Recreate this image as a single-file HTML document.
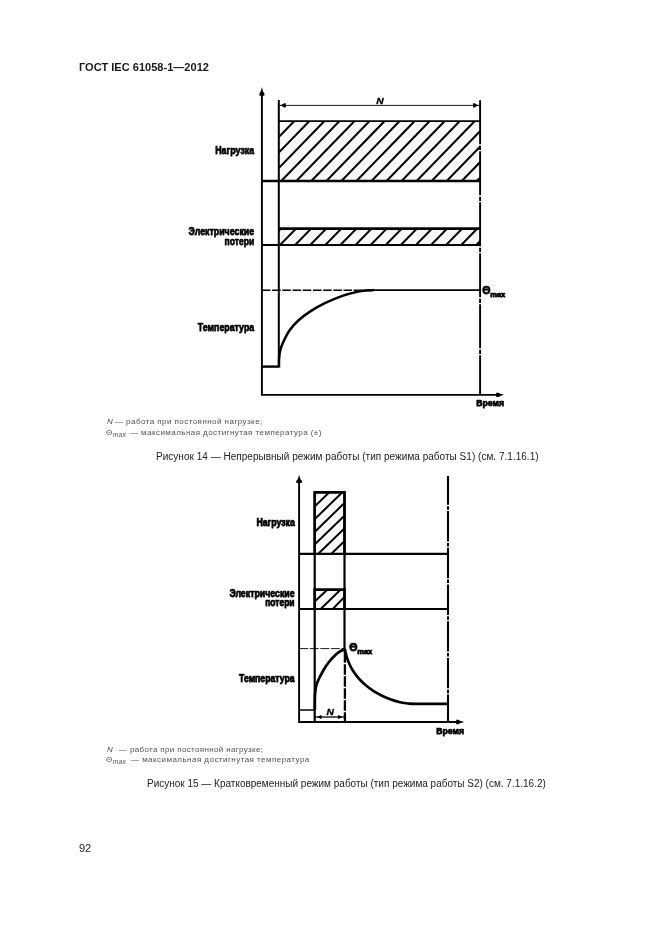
<!DOCTYPE html>
<html lang="ru">
<head>
<meta charset="utf-8">
<title>ГОСТ IEC 61058-1—2012</title>
<style>
html,body{margin:0;padding:0;background:#fff;}
body{width:661px;height:935px;position:relative;overflow:hidden;font-family:"Liberation Sans",sans-serif;color:#1a1a1a;}
.t{position:absolute;white-space:nowrap;line-height:1;will-change:transform;}
.hdr{left:78.5px;top:61.5px;font-size:11px;font-weight:bold;letter-spacing:0.03px;color:#1a1a1a;}
.pg{left:79px;top:842.5px;font-size:11px;color:#222;}
.cap{font-size:10px;color:#222;}
.note{font-size:8px;letter-spacing:0.43px;color:#505050;}
.note i{letter-spacing:0;}
.note sub{font-size:6.6px;font-style:italic;letter-spacing:0.3px;vertical-align:baseline;position:relative;top:2px;}
svg{position:absolute;left:0;top:0;will-change:transform;}
</style>
</head>
<body>
<svg width="661" height="935" viewBox="0 0 661 935">
<rect x="278.8" y="121.1" width="201.30" height="59.90" fill="#f8f8f8"/>
<rect x="278.8" y="228.6" width="201.30" height="16.40" fill="#f8f8f8"/>
<clipPath id="h1"><rect x="278.8" y="121.1" width="201.30" height="59.90"/></clipPath>
<g clip-path="url(#h1)" stroke="#000" stroke-width="2.05" fill="none">
<path d="M218.19 184.00L282.17 118.10M233.23 184.00L297.21 118.10M248.27 184.00L312.25 118.10M263.31 184.00L327.29 118.10M278.35 184.00L342.33 118.10M293.39 184.00L357.37 118.10M308.43 184.00L372.41 118.10M323.47 184.00L387.45 118.10M338.51 184.00L402.49 118.10M353.55 184.00L417.53 118.10M368.59 184.00L432.57 118.10M383.63 184.00L447.61 118.10M398.67 184.00L462.65 118.10M413.71 184.00L477.69 118.10M428.75 184.00L492.73 118.10M443.79 184.00L507.77 118.10M458.83 184.00L522.81 118.10M473.87 184.00L537.85 118.10"/>
</g>
<clipPath id="h2"><rect x="278.8" y="228.6" width="201.30" height="16.40"/></clipPath>
<g clip-path="url(#h2)" stroke="#000" stroke-width="2.0" fill="none">
<path d="M261.96 248.00L283.92 225.60M277.06 248.00L299.02 225.60M292.16 248.00L314.12 225.60M307.26 248.00L329.22 225.60M322.36 248.00L344.32 225.60M337.46 248.00L359.42 225.60M352.56 248.00L374.52 225.60M367.66 248.00L389.62 225.60M382.76 248.00L404.72 225.60M397.86 248.00L419.82 225.60M412.96 248.00L434.92 225.60M428.06 248.00L450.02 225.60M443.16 248.00L465.12 225.60M458.26 248.00L480.22 225.60M473.36 248.00L495.32 225.60"/>
</g>
<g stroke="#000" fill="none" stroke-width="1.9">
<path d="M261.9 94V394.85H498"/>
<path d="M278.8 100V367" stroke-width="2"/>
<path d="M480.1 100.3V394.85" stroke-width="1.9" stroke-dasharray="43.9 1.5 4.4 1.2"/>
<path d="M278.8 105.4H480.1" stroke-width="0.9"/>
<path d="M278.8 121.1H480.1" stroke-width="1.9"/>
<path d="M261.9 181.0H480.1" stroke-width="2.3"/>
<path d="M278.8 228.6H480.1" stroke-width="2.8"/>
<path d="M261.9 245.0H480.1" stroke-width="1.8"/>
<path d="M261.9 290.2H372" stroke-width="1.6" stroke-dasharray="8.6 1.6"/>
<path d="M368 290.1H480.1" stroke-width="1.6"/>
<path d="M261.9 366.6H278.8" stroke-width="2.4"/>
<path d="M279.00 367.60C279.02 366.17 278.90 361.85 279.10 359.00C279.30 356.15 279.45 353.45 280.20 350.50C280.95 347.55 282.03 344.68 283.60 341.30C285.17 337.92 287.10 333.70 289.60 330.20C292.10 326.70 295.15 323.43 298.60 320.30C302.05 317.17 305.83 314.30 310.30 311.40C314.77 308.50 319.93 305.53 325.40 302.90C330.87 300.27 337.67 297.48 343.10 295.60C348.53 293.72 354.02 292.47 358.00 291.60C361.98 290.73 364.33 290.65 367.00 290.40C369.67 290.15 372.83 290.15 374.00 290.10" stroke-width="2.5" stroke-linejoin="round"/>
</g>
<path d="M261.90 87.00L262.60 89.64L263.20 91.84L264.35 93.34L264.35 95.80L259.45 95.80L259.45 93.34L260.60 91.84L261.20 89.64z" fill="#000"/>
<path d="M504.20 394.85L501.80 395.55L499.80 396.15L498.44 397.05L496.20 397.05L496.20 392.65L498.44 392.65L499.80 393.55L501.80 394.15z" fill="#000"/>
<path d="M279.80 105.40L281.60 106.10L283.10 106.70L284.12 107.50L285.80 107.50L285.80 103.30L284.12 103.30L283.10 104.10L281.60 104.70z" fill="#000"/>
<path d="M479.10 105.40L477.30 106.10L475.80 106.70L474.78 107.50L473.10 107.50L473.10 103.30L474.78 103.30L475.80 104.10L477.30 104.70z" fill="#000"/>
<rect x="314.7" y="492.4" width="29.80" height="61.50" fill="#f8f8f8"/>
<rect x="314.7" y="589.6" width="29.80" height="19.40" fill="#f8f8f8"/>
<clipPath id="h3"><rect x="314.7" y="492.4" width="29.80" height="61.50"/></clipPath>
<g clip-path="url(#h3)" stroke="#000" stroke-width="2.0" fill="none">
<path d="M249.60 556.90L319.19 489.40M262.69 556.90L332.28 489.40M275.79 556.90L345.37 489.40M288.88 556.90L358.47 489.40M301.97 556.90L371.56 489.40M315.06 556.90L384.65 489.40M328.16 556.90L397.75 489.40M341.25 556.90L410.84 489.40"/>
</g>
<clipPath id="h4"><rect x="314.7" y="589.6" width="29.80" height="19.40"/></clipPath>
<path clip-path="url(#h4)" stroke="#000" stroke-width="2.0" fill="none" d="M313.07 603.03L329.33 587.87M318.43 611.19L342.47 587.81M330.51 611.27L345.99 595.33"/>
<g stroke="#000" fill="none" stroke-width="1.9">
<path d="M299.1 481V722.0H458"/>
<path d="M448 476V722.0" stroke-width="2.1" stroke-dasharray="30.4 1.4 3.5 1.4" stroke-dashoffset="1.6"/>
<path d="M299.1 553.9H448" stroke-width="2.1"/>
<path d="M299.1 609.0H448" stroke-width="2.1"/>
<path d="M314.7 492.4V722.0" stroke-width="2.2"/>
<path d="M344.5 492.4V652.3" stroke-width="2.2"/>
<path d="M314.7 491.09999999999997V553.9M344.5 491.09999999999997V553.9M314.7 588.3000000000001V609.0M344.5 588.3000000000001V609.0" stroke-width="2.6"/>
<path d="M314.7 492.4H344.5M314.7 589.6H344.5" stroke-width="2.8"/>
<path d="M344.9 652.3V722.0" stroke-width="2.3" stroke-dasharray="10.4 1.6"/>
<path d="M314.7 717H344.5" stroke-width="1.3"/>
<path d="M299.1 648.6H344.5" stroke-width="0.9" stroke-dasharray="9 1.6"/>
<path d="M299.1 710H314.7" stroke-width="1.5"/>
<path d="M314.80 710.30C314.82 708.08 314.80 700.28 314.90 697.00C315.00 693.72 315.18 692.43 315.40 690.60C315.62 688.77 315.82 687.50 316.20 686.00C316.58 684.50 317.10 683.10 317.70 681.60C318.30 680.10 319.00 678.60 319.80 677.00C320.60 675.40 321.52 673.73 322.50 672.00C323.48 670.27 324.55 668.35 325.70 666.60C326.85 664.85 328.08 663.13 329.40 661.50C330.72 659.87 332.02 658.35 333.60 656.80C335.18 655.25 337.03 653.52 338.90 652.20C340.77 650.88 343.82 649.45 344.80 648.90" stroke-width="2.7" stroke-linejoin="round"/>
<path d="M344.80 648.90C345.13 650.30 345.98 654.67 346.80 657.30C347.62 659.93 348.67 662.45 349.70 664.70C350.73 666.95 351.75 668.82 353.00 670.80C354.25 672.78 355.67 674.73 357.20 676.60C358.73 678.47 360.47 680.30 362.20 682.00C363.93 683.70 365.63 685.25 367.60 686.80C369.57 688.35 371.85 689.93 374.00 691.30C376.15 692.67 378.33 693.88 380.50 695.00C382.67 696.12 384.83 697.10 387.00 698.00C389.17 698.90 391.33 699.70 393.50 700.40C395.67 701.10 397.58 701.68 400.00 702.20C402.42 702.72 405.33 703.23 408.00 703.50C410.67 703.77 409.33 703.75 416.00 703.80C422.67 703.85 442.67 703.80 448.00 703.80" stroke-width="2.7" stroke-linejoin="round"/>
</g>
<path d="M299.10 474.70L299.80 477.19L300.40 479.26L301.90 480.68L301.90 483.00L296.30 483.00L296.30 480.68L297.80 479.26L298.40 477.19z" fill="#000"/>
<path d="M464.20 722.00L461.80 722.70L459.80 723.30L458.44 724.20L456.20 724.20L456.20 719.80L458.44 719.80L459.80 720.70L461.80 721.30z" fill="#000"/>
<path d="M317.30 717.00L318.59 717.70L319.67 718.30L320.40 718.70L321.60 718.70L321.60 715.30L320.40 715.30L319.67 715.70L318.59 716.30z" fill="#000"/>
<path d="M342.30 717.00L341.01 717.70L339.94 718.30L339.20 718.70L338.00 718.70L338.00 715.30L339.20 715.30L339.94 715.70L341.01 716.30z" fill="#000"/>
<g font-family="'Liberation Sans', sans-serif" font-weight="bold" fill="#000" stroke="#000" stroke-width="0.75" stroke-linejoin="round" style="filter:blur(0.3px)">
<text x="215.20" y="153.7" font-size="11.2" font-style="normal" textLength="39.0" lengthAdjust="spacingAndGlyphs">Нагрузка</text>
<text x="188.60" y="234.6" font-size="11.2" font-style="normal" textLength="65.6" lengthAdjust="spacingAndGlyphs">Электрические</text>
<text x="224.60" y="245.0" font-size="11.2" font-style="normal" textLength="29.6" lengthAdjust="spacingAndGlyphs">потери</text>
<text x="197.80" y="330.8" font-size="11.2" font-style="normal" textLength="56.4" lengthAdjust="spacingAndGlyphs">Температура</text>
<text x="476.30" y="405.7" font-size="9.4" font-style="normal" textLength="27.7" lengthAdjust="spacingAndGlyphs">Время</text>
<text stroke-width="0.3" x="376.30" y="103.6" font-size="9.7" font-style="italic" textLength="7.4" lengthAdjust="spacingAndGlyphs">N</text>
<text x="482.2" y="293.5" font-size="10.6">Θ<tspan font-size="7.6" dy="3.2" dx="-0.3">max</tspan></text>
<text x="256.40" y="525.8" font-size="10.2" font-style="normal" textLength="38.4" lengthAdjust="spacingAndGlyphs">Нагрузка</text>
<text x="229.40" y="596.5" font-size="10.2" font-style="normal" textLength="65.2" lengthAdjust="spacingAndGlyphs">Электрические</text>
<text x="265.20" y="606.3" font-size="10.2" font-style="normal" textLength="29.4" lengthAdjust="spacingAndGlyphs">потери</text>
<text x="239.10" y="681.5" font-size="10.2" font-style="normal" textLength="55.5" lengthAdjust="spacingAndGlyphs">Температура</text>
<text x="436.30" y="733.5" font-size="9.4" font-style="normal" textLength="27.7" lengthAdjust="spacingAndGlyphs">Время</text>
<text stroke-width="0.3" x="326.50" y="714.6" font-size="8.8" font-style="italic" textLength="7.4" lengthAdjust="spacingAndGlyphs">N</text>
<text x="349.2" y="650.8" font-size="10.6">Θ<tspan font-size="7.6" dy="2.8" dx="-0.3">max</tspan></text>
</g>
</svg>
<div class="t hdr">ГОСТ IEC 61058-1—2012</div>
<div class="t note" style="left:107.2px;top:418px"><i>N</i></div>
<div class="t note" style="left:115.4px;top:418px;letter-spacing:0.45px">— работа при постоянной нагрузке;</div>
<div class="t note" style="left:106px;top:428.7px">Θ<sub>max</sub></div>
<div class="t note" style="left:129.6px;top:428.7px;letter-spacing:0.443px">— максимальная достигнутая температура (±)</div>
<div class="t cap" style="left:155.8px;top:452px;letter-spacing:0.024px">Рисунок 14 — Непрерывный режим работы (тип режима работы S1) (см. 7.1.16.1)</div>
<div class="t note" style="left:107.2px;top:745.8px"><i>N</i></div>
<div class="t note" style="left:119.3px;top:745.8px;letter-spacing:0.347px">— работа при постоянной нагрузке;</div>
<div class="t note" style="left:106px;top:756px">Θ<sub>max</sub></div>
<div class="t note" style="left:131.4px;top:756px;letter-spacing:0.462px">— максимальная достигнутая температура</div>
<div class="t cap" style="left:147px;top:778.6px;letter-spacing:-0.005px">Рисунок 15 — Кратковременный режим работы (тип режима работы S2) (см. 7.1.16.2)</div>
<div class="t pg">92</div>
</body>
</html>
